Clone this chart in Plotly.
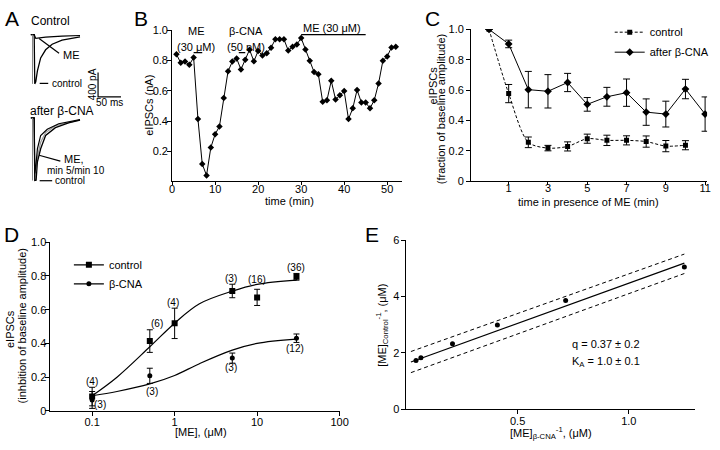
import plotly.graph_objects as go

# ---------------- DATA ----------------
# Panel A: example traces (time in ms from stimulus, current in pA)
a_ctrl_control_t = [-8, -0.6, 0.6, 2.8, 6.4, 13.5, 24.3, 38.6, 60.1, 99.4]
a_ctrl_control_i = [0, 0, -808, -776, -595, -381, -248, -157, -88, -35]
a_ctrl_me_t = [-8, -0.6, 2.8, 24.3, 60.1, 99.4]
a_ctrl_me_i = [0, 3, -61, -40, -24, -13]
a_cna_control_t = [-8, -0.6, 0.6, 3.6, 6.4, 13.5, 24.3, 45.7, 74.5, 99.4]
a_cna_control_i = [0, 0, -1029, -1024, -720, -507, -288, -160, -80, -37]
a_cna_me5_t = [-8, -0.6, 0.6, 2.8, 6.4, 13.5, 27.9, 53.0, 99.4]
a_cna_me5_i = [0, 0, -912, -800, -507, -288, -187, -96, -27]
a_cna_me10_t = [0.6, 6.4, 13.5, 24.3, 45.7, 99.4]
a_cna_me10_i = [-976, -640, -400, -240, -128, -32]
scale_ms = 50
scale_pa = 400

# Panel B: time course (min, nA)
b_time = list(range(1, 53))
b_eipsc = [0.842, 0.785, 0.793, 0.772, 0.82, 0.413, 0.116, 0.04, 0.225, 0.313,
           0.364, 0.553, 0.729, 0.793, 0.814, 0.741, 0.806, 0.872, 0.795, 0.864,
           0.833, 0.849, 0.885, 0.941, 0.941, 0.941, 0.866, 0.891, 0.907, 0.949,
           0.874, 0.799, 0.724, 0.709, 0.527, 0.538, 0.666, 0.542, 0.570, 0.598,
           0.413, 0.484, 0.606, 0.523, 0.523, 0.484, 0.538, 0.649, 0.799, 0.827,
           0.887, 0.891]
b_me1_window = [5, 7]
b_cna_window = [15.5, 17]
b_me2_window = [30, 45]
b_bar_level_low = 0.853
b_bar_level_high = 0.971

# Panel C
c_time = list(range(0, 12))
c_cna = [1.0, 0.904, 0.603, 0.592, 0.65, 0.506, 0.556, 0.583, 0.455, 0.442, 0.607, 0.442]
c_cna_err = [0, 0.025, 0.12, 0.11, 0.06, 0.045, 0.062, 0.09, 0.087, 0.085, 0.064, 0.113]
c_ctrl_time = list(range(0, 11))
c_ctrl = [1.0, 0.577, 0.256, 0.218, 0.229, 0.28, 0.269, 0.269, 0.261, 0.231, 0.237]
c_ctrl_err = [0, 0.06, 0.035, 0.018, 0.03, 0.03, 0.034, 0.03, 0.037, 0.037, 0.03]

# Panel D
d_conc = [0.1, 0.5, 1, 5, 10, 30]
d_ctrl = [0.085, 0.414, 0.519, 0.711, 0.673, 0.795]
d_ctrl_err = [0.055, 0.067, 0.09, 0.04, 0.048, 0.02]
d_ctrl_n = ["(4)", "(6)", "(4)", "(3)", "(16)", "(36)"]
d_cna_conc = [0.1, 0.5, 5, 30]
d_cna = [0.065, 0.208, 0.313, 0.431]
d_cna_err = [0.05, 0.045, 0.03, 0.025]
d_cna_n = ["(3)", "(3)", "(3)", "(12)"]
d_fit_conc = [0.1, 0.2, 0.5, 1, 2, 5, 10, 30]
d_fit_ctrl = [0.09, 0.2, 0.38, 0.52, 0.635, 0.71, 0.75, 0.775]
d_fit_cna = [0.09, 0.115, 0.16, 0.21, 0.28, 0.36, 0.40, 0.425]

# Panel E
e_x = [0.043, 0.065, 0.207, 0.409, 0.716, 1.25]
e_y = [1.73, 1.83, 2.33, 2.99, 3.86, 5.05]
e_fit_x = [0.02, 1.25]
e_fit_y = [1.68, 5.19]
e_ci_upper = [2.05, 5.51]
e_ci_lower = [1.30, 4.82]

# ---------------- FIGURE ----------------
W, H = 720, 450
def fx(p): return p / W
def fy(p): return 1 - p / H

FONT = "Liberation Sans, Arial, Helvetica, sans-serif"
K = "black"
fig = go.Figure()

# ---- Panel A ----
def line(x, y, xa, ya, color=K, width=1.2, dash=None):
    fig.add_trace(go.Scatter(x=x, y=y, mode="lines", xaxis=xa, yaxis=ya,
                             line=dict(color=color, width=width, dash=dash),
                             showlegend=False, hoverinfo="skip"))

line(a_ctrl_me_t, a_ctrl_me_i, "x", "y", width=1.2)
line(a_ctrl_control_t, a_ctrl_control_i, "x", "y", width=1.3)
line([-4.3, -4.3], [0, a_ctrl_control_i[2]], "x", "y", color="#888", width=1)
line(a_cna_me10_t, a_cna_me10_i, "x", "y2", color="#999", width=1.2)
line(a_cna_me5_t, a_cna_me5_i, "x", "y2", width=1.2)
line(a_cna_control_t, a_cna_control_i, "x", "y2", width=1.3)
line([-4.3, -4.3], [0, a_cna_control_i[2]], "x", "y2", color="#888", width=1)
# scale bar
sb_t0, sb_i0 = 138.8, -1021
line([sb_t0, sb_t0, sb_t0 + scale_ms], [sb_i0 + scale_pa, sb_i0, sb_i0], "x", "y", width=1.2)

# ---- Panel B ----
fig.add_trace(go.Scatter(x=b_time, y=b_eipsc, mode="lines+markers", xaxis="x3", yaxis="y3",
                         line=dict(color=K, width=1),
                         marker=dict(symbol="diamond", size=5, color=K),
                         showlegend=False))
for w, lvl in [(b_me1_window, b_bar_level_low), (b_cna_window, b_bar_level_low),
               (b_me2_window, b_bar_level_high)]:
    line(w, [lvl, lvl], "x3", "y3", width=1.3)

# ---- Panel C ----
fig.add_trace(go.Scatter(x=c_ctrl_time, y=c_ctrl, mode="lines+markers", xaxis="x4", yaxis="y4",
                         name="control", legend="legend", legendgroup="c1",
                         line=dict(color=K, width=1, dash="3px,2px", shape="spline", smoothing=0.8),
                         marker=dict(symbol="square", size=5, color=K),
                         error_y=dict(type="data", array=c_ctrl_err, color=K, thickness=1, width=3.5)))
fig.add_trace(go.Scatter(x=c_time, y=c_cna, mode="lines+markers", xaxis="x4", yaxis="y4",
                         name="after β-CNA", legend="legend", legendgroup="c2",
                         line=dict(color=K, width=1),
                         marker=dict(symbol="diamond", size=6, color=K),
                         error_y=dict(type="data", array=c_cna_err, color=K, thickness=1, width=3.5)))

# ---- Panel D ----
fig.add_trace(go.Scatter(x=d_fit_conc, y=d_fit_ctrl, mode="lines", xaxis="x5", yaxis="y5",
                         line=dict(color=K, width=1.2, shape="spline"), showlegend=False))
fig.add_trace(go.Scatter(x=d_fit_conc, y=d_fit_cna, mode="lines", xaxis="x5", yaxis="y5",
                         line=dict(color=K, width=1.2, shape="spline"), showlegend=False))
fig.add_trace(go.Scatter(x=d_conc, y=d_ctrl, mode="markers", xaxis="x5", yaxis="y5",
                         marker=dict(symbol="square", size=6, color=K), showlegend=False,
                         error_y=dict(type="data", array=d_ctrl_err, color=K, thickness=1, width=3)))
fig.add_trace(go.Scatter(x=d_cna_conc, y=d_cna, mode="markers", xaxis="x5", yaxis="y5",
                         marker=dict(symbol="circle", size=5, color=K), showlegend=False,
                         error_y=dict(type="data", array=d_cna_err, color=K, thickness=1, width=3)))
# legend entries for D
fig.add_trace(go.Scatter(x=[None], y=[None], mode="lines+markers", xaxis="x5", yaxis="y5",
                         name="control", legend="legend2", legendgroup="d1",
                         line=dict(color=K, width=1.2), marker=dict(symbol="square", size=6, color=K)))
fig.add_trace(go.Scatter(x=[None], y=[None], mode="lines+markers", xaxis="x5", yaxis="y5",
                         name="β-CNA", legend="legend2", legendgroup="d2",
                         line=dict(color=K, width=1.2), marker=dict(symbol="circle", size=5, color=K)))

# ---- Panel E ----
fig.add_trace(go.Scatter(x=e_fit_x, y=e_fit_y, mode="lines", xaxis="x6", yaxis="y6",
                         line=dict(color=K, width=1.2), showlegend=False))
fig.add_trace(go.Scatter(x=e_fit_x, y=e_ci_upper, mode="lines", xaxis="x6", yaxis="y6",
                         line=dict(color=K, width=1, dash="4px,3px"), showlegend=False))
fig.add_trace(go.Scatter(x=e_fit_x, y=e_ci_lower, mode="lines", xaxis="x6", yaxis="y6",
                         line=dict(color=K, width=1, dash="4px,3px"), showlegend=False))
fig.add_trace(go.Scatter(x=e_x, y=e_y, mode="markers", xaxis="x6", yaxis="y6",
                         marker=dict(symbol="circle", size=5, color=K), showlegend=False))

# ---------------- AXES ----------------
def ax(**kw):
    d = dict(showline=True, linecolor=K, linewidth=1, ticks="outside", ticklen=4,
             tickwidth=1, tickcolor=K, showgrid=False, zeroline=False,
             tickfont=dict(size=11, color=K, family=FONT))
    d.update(kw)
    return d

hidden = dict(visible=False, showgrid=False, zeroline=False)
layout = dict(
    width=W, height=H, margin=dict(l=0, r=0, t=0, b=0),
    paper_bgcolor="white", plot_bgcolor="white",
    font=dict(family=FONT, size=11, color=K),
    xaxis=dict(hidden, domain=[0, fx(125)], range=[-68.7, 199.6]),
    yaxis=dict(hidden, domain=[fy(110), fy(20)], range=[-1288, 152]),
    yaxis2=dict(hidden, domain=[fy(200), fy(100)], range=[-1360, 240], anchor="x"),
    xaxis3=ax(domain=[fx(172), fx(406)], range=[0, 53.5], anchor="y3",
              tickvals=[0, 10, 20, 30, 40, 50], ticklen=3, ticklabelstandoff=-6),
    yaxis3=ax(domain=[fy(180.3), fy(25)], range=[0, 1], anchor="x3", ticklabelstandoff=-3,
              tickvals=[0.2, 0.4, 0.6, 0.8, 1.0], ticktext=["0.2", "0.4", "0.6", "0.8", "1.0"]),
    xaxis4=ax(domain=[fx(476), fx(716)], range=[-0.915, 11.1], anchor="y4",
              tickvals=[1, 3, 5, 7, 9, 11], ticklen=3, ticklabelstandoff=-6),
    yaxis4=ax(domain=[fy(180), fy(24)], range=[0, 1], anchor="x4",
              tickvals=[0, 0.2, 0.4, 0.6, 0.8, 1.0], ticktext=["0", "0.2", "0.4", "0.6", "0.8", "1.0"]),
    xaxis5=ax(domain=[fx(48.3), fx(342.3)], type="log", range=[-1.505, 2], anchor="y5",
              tickvals=[0.1, 1, 10, 100], ticktext=["0.1", "1", "10", "100"], ticklabelstandoff=-3),
    yaxis5=ax(domain=[fy(416), fy(242.7)], range=[0, 1], anchor="x5", ticklabelstandoff=-3,
              tickvals=[0, 0.2, 0.4, 0.6, 0.8, 1.0], ticktext=["0", "0.2", "0.4", "0.6", "0.8", "1.0"]),
    xaxis6=ax(domain=[fx(410.3), fx(703.3)], range=[0, 1.296], anchor="y6",
              tickvals=[0.5, 1.0], ticktext=["0.5", "1.0"], ticklabelstandoff=-2),
    yaxis6=ax(domain=[fy(414.3), fy(240.7)], range=[0, 6], anchor="x6",
              tickvals=[0, 2, 4, 6]),
    legend=dict(x=fx(617), y=fy(12), xanchor="left", yanchor="top", bgcolor="rgba(0,0,0,0)",
                font=dict(size=11), tracegroupgap=1),
    legend2=dict(x=fx(67), y=fy(251), xanchor="left", yanchor="top", bgcolor="rgba(0,0,0,0)",
                 font=dict(size=11), tracegroupgap=0),
)
fig.update_layout(**layout)

# ---------------- TEXT ----------------
anns = []
def txt(x, y, s, size=11, angle=0, xanchor="center", yanchor="middle"):
    anns.append(dict(x=fx(x), y=fy(y), xref="paper", yref="paper", text=s, showarrow=False,
                     font=dict(size=size, family=FONT, color=K), textangle=angle,
                     xanchor=xanchor, yanchor=yanchor))

# panel letters
for L, x, y in [("A", 9, 13), ("B", 140, 13), ("C", 437, 13), ("D", 9, 235), ("E", 375, 235)]:
    txt(x, y, L, size=21)

# A
txt(26, 15, "Control", size=12, xanchor="left")
txt(25, 107.5, "after β-CNA", size=12, xanchor="left")
txt(59, 50, "ME", size=11, xanchor="left")
txt(48, 79.5, "control", size=10, xanchor="left")
txt(91, 80, "400 pA", size=10, angle=-90)
txt(108.3, 99.5, "50 ms", size=10)
txt(59.5, 157.5, "ME,", size=11, xanchor="left")
txt(43, 168.5, "min 5/min 10", size=10, xanchor="left")
txt(51, 179.5, "control", size=10, xanchor="left")

# B
txt(197, 26, "ME")
txt(196, 42, "(30 μM)")
txt(247, 26, "β-CNA")
txt(247, 42, "(50 nM)")
txt(335, 23, "ME (30 μM)")
txt(149, 102, "eIPSCs (nA)", angle=-90)
txt(291, 200, "time (min)")

# C
txt(437, 82, "eIPSCs", angle=-90)
txt(445.5, 106, "(fraction of baseline amplitude)", angle=-90)
txt(595, 201, "time in presence of ME (min)")

# D
txt(7, 332, "eIPSCs", angle=-90)
txt(19.5, 329, "(inhbition of baseline amplitude)", angle=-90)
txt(201, 438, "[ME], (μM)")
d_lbl = [(90.7, 385.3, d_ctrl_n[0]), (157, 326.7, d_ctrl_n[1]), (173, 305, d_ctrl_n[2]),
         (231.7, 280, d_ctrl_n[3]), (258, 281, d_ctrl_n[4]), (297.7, 269, d_ctrl_n[5]),
         (99, 409.3, d_cna_n[0]), (151.7, 396, d_cna_n[1]), (231.7, 371.7, d_cna_n[2]),
         (296.7, 351.7, d_cna_n[3])]
for x, y, s in d_lbl:
    txt(x, y, s, size=10)

# E
txt(386, 328, "[ME]<sub>Control</sub><sup>-1</sup>, (μM)", angle=-90)
txt(557, 439, "[ME]<sub>β-CNA</sub><sup>-1</sup>, (μM)")
txt(577, 347.7, "q = 0.37 ± 0.2", xanchor="left")
txt(577, 365.7, "K<sub>A</sub> = 1.0 ± 0.1", xanchor="left")

fig.update_layout(annotations=anns)

# leader lines in panel A
shapes = []
for (x0, y0, x1, y1) in [(36.7, 33.3, 57, 48.5), (37.3, 79.5, 46, 79.5),
                         (36.7, 153.3, 58.3, 159.3), (37.3, 179.5, 50, 179.5)]:
    shapes.append(dict(type="line", xref="paper", yref="paper", x0=fx(x0), y0=fy(y0),
                       x1=fx(x1), y1=fy(y1), line=dict(color=K, width=1.2)))
fig.update_layout(shapes=shapes)

fig.write_html("out.html", config={"displayModeBar": False},
               post_script="document.body.style.margin='0px';")
